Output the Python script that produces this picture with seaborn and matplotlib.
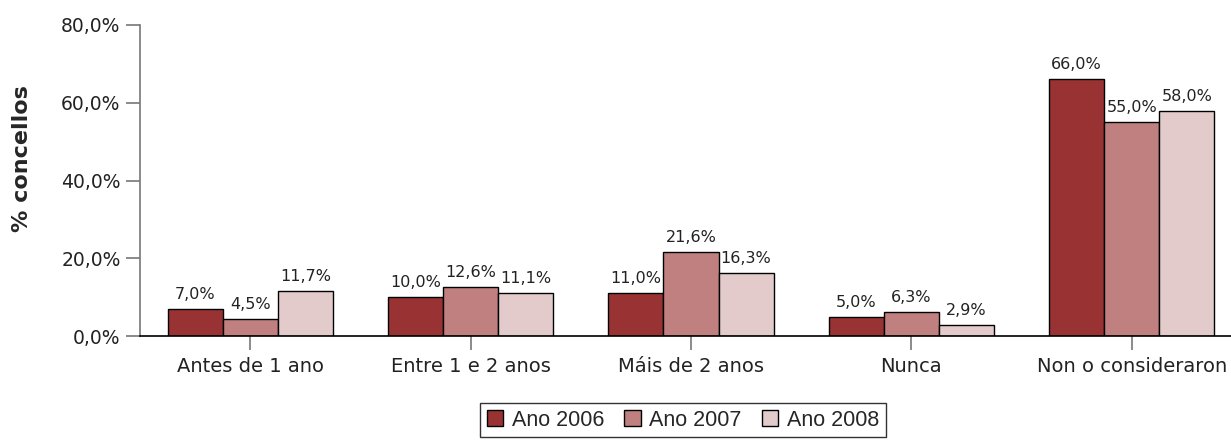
import numpy as np
import pandas as pd
import matplotlib
matplotlib.use("Agg")
import matplotlib.pyplot as plt
import seaborn as sns
from matplotlib.ticker import FuncFormatter

sns.set_theme(style="white")
plt.rcParams['font.family'] = ['DejaVu Sans']

# Data
categories = ["Antes de 1 ano", "Entre 1 e 2 anos", "Máis de 2 anos", "Nunca", "Non o consideraron"]
years = ["Ano 2006", "Ano 2007", "Ano 2008"]
v2006 = [7.0, 10.0, 11.0, 5.0, 66.0]
v2007 = [4.5, 12.6, 21.6, 6.3, 55.0]
v2008 = [11.7, 11.1, 16.3, 2.9, 58.0]
colors = ["#993333", "#C08080", "#E3CBCB"]

df = pd.DataFrame({
    "categoria": categories * 3,
    "ano": [years[0]] * 5 + [years[1]] * 5 + [years[2]] * 5,
    "valor": v2006 + v2007 + v2008,
})

fig = plt.figure(figsize=(12.31, 4.41), dpi=100)
ax = fig.add_axes([140 / 1231, 105 / 441, 1 - 140 / 1231, 311 / 441])

sns.barplot(data=df, x="categoria", y="valor", hue="ano", order=categories,
            hue_order=years, palette=colors, width=0.75, edgecolor="black",
            linewidth=1, saturation=1, errorbar=None, ax=ax, legend=True)

# Value labels
for cont in ax.containers:
    ax.bar_label(cont, labels=[f"{v:.1f}%".replace(".", ",") for v in cont.datavalues],
                 padding=5, fontsize=11.5, color="#222222")

ax.set_xlim(-0.5, 4.45)
ax.set_ylim(0, 80)
ax.set_yticks([0, 20, 40, 60, 80])
ax.yaxis.set_major_formatter(FuncFormatter(lambda v, p: f"{v:.1f}%".replace(".", ",")))
ax.set_xlabel("")
ax.set_ylabel("% concellos", fontsize=16, fontweight="bold")
ax.yaxis.set_label_coords(-108 / 1091, 0.57)

for s in ["top", "right"]:
    ax.spines[s].set_visible(False)
ax.spines["left"].set_color("#777777")
ax.spines["left"].set_linewidth(1.2)
ax.spines["bottom"].set_color("black")
ax.spines["bottom"].set_linewidth(1.2)

ax.tick_params(axis="y", which="major", left=True, length=10, width=1.2,
               color="#777777", labelsize=13.5, pad=4, labelcolor="#222222")
ax.tick_params(axis="x", which="major", bottom=True, length=10, width=1.2,
               color="#777777", labelsize=14, pad=5, labelcolor="#222222")

# Legend
handles, labels = ax.get_legend_handles_labels()
ax.get_legend().remove()
leg = fig.legend(handles, labels, loc="center", ncol=3,
                 bbox_to_anchor=(683 / 1231, 1 - 420 / 441),
                 frameon=True, fancybox=False, edgecolor="black",
                 handlelength=0.75, handleheight=0.75, handletextpad=0.4,
                 columnspacing=0.95, borderpad=0.32, borderaxespad=0,
                 prop={"family": "Liberation Sans", "size": 15.5})
leg.get_frame().set_linewidth(1)

fig.savefig("out.png", dpi=100)
